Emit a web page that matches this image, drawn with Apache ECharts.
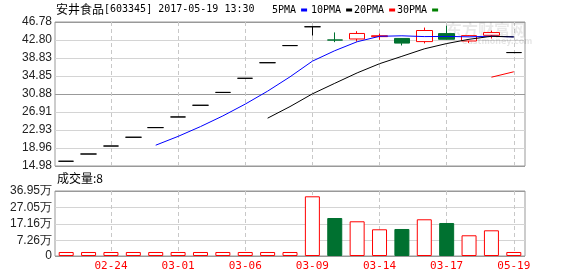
<!DOCTYPE html>
<html><head><meta charset="utf-8">
<script src="https://cdn.jsdelivr.net/npm/echarts@6/dist/echarts.min.js"></script>
<style>html,body{margin:0;padding:0;background:#fff}#c{width:578px;height:276px}</style>
</head><body><div id="c"></div>
<script>
const dates = ['02-22','02-23','02-24','02-27','02-28','03-01','03-02','03-03','03-06','03-07','03-08','03-09','03-10','03-13','03-14','03-15','03-16','03-17','03-20','03-21','05-19'];
const opens  = [16.03,17.63,19.39,21.33,23.46,25.81,28.39,31.23,34.35,37.79,41.57,45.73,42.82,43.03,43.55,43.15,42.45,44.22,42.59,43.85,40.03];
const closes = [16.03,17.63,19.39,21.33,23.46,25.81,28.39,31.23,34.35,37.79,41.57,45.73,42.78,44.25,43.75,42.12,44.90,42.97,43.77,44.45,40.03];
const lows   = [16.03,17.63,19.39,21.33,23.46,25.81,28.39,31.23,34.35,37.79,41.57,43.78,42.33,42.46,42.85,41.60,42.05,42.92,42.15,43.13,40.03];
const highs  = [16.03,17.63,19.39,21.33,23.46,25.81,28.39,31.23,34.35,37.79,41.57,45.73,44.48,44.75,44.25,43.20,45.55,45.95,43.85,44.88,40.03];
const volumes = [0.4,0.4,0.4,0.4,0.4,0.4,0.4,0.4,0.4,0.4,0.4,33.77,20.77,18.80,14.01,14.18,20.00,17.78,10.41,13.40,0.4];
const ma5  = [null,null,null,null,19.57,21.52,23.68,26.04,28.65,31.51,34.67,38.13,40.44,42.42,43.62,43.73,43.56,43.60,43.50,43.64,43.50];
const ma10 = [null,null,null,null,null,null,null,null,null,25.54,28.10,30.91,33.24,35.54,37.57,39.20,40.85,42.02,42.96,43.63,43.48];
const ma20 = [null,null,null,null,null,null,null,null,null,null,null,null,null,null,null,null,null,null,null,34.59,35.79];
const ma30 = [null,null,null,null,null,null,null,null,null,null,null,null,null,null,null,null,null,null,null,null,null];
const priceTickLabels = ['14.98','18.96','22.93','26.91','30.88','34.85','38.83','42.80','46.78'];
const volTickValues = [7.26,17.16,27.05,36.95];
const volTickLabels = ['0','7.26万','17.16万','27.05万','36.95万'];

const PMIN = 14.98, PMAX = 46.78, VMIN = -2.0, VMAX = 36.95;
const RED = '#ff0000', GREEN = '#007130';
const priceTickValues = priceTickLabels.map((s, i) => PMIN + (PMAX - PMIN) * i / 8);
const volAllTicks = [VMIN].concat(volTickValues);

function nearestLabel(values, labels, v) {
  let best = 0;
  for (let i = 1; i < values.length; i++) if (Math.abs(values[i] - v) < Math.abs(values[best] - v)) best = i;
  return labels[best];
}

const candleData = dates.map((d, i) => {
  const item = { value: [opens[i], closes[i], lows[i], highs[i]] };
  if (opens[i] === closes[i]) item.itemStyle = { borderColor: '#000', borderColor0: '#000', color: '#000', color0: '#000' };
  return item;
});
const volData = volumes.map((v, i) => {
  const down = closes[i] < opens[i];
  return { value: v, itemStyle: down ? { color: GREEN, borderColor: GREEN, borderWidth: 1 } : { color: '#fff', borderColor: RED, borderWidth: 1 } };
});

const labelIdx = (i) => i % 3 === 2;
const chart = echarts.init(document.getElementById('c'), null, { renderer: 'canvas' });
const legendCommon = { top: 5, itemWidth: 6, itemHeight: 3, align: 'right', padding: 0, icon: 'rect',
  textStyle: { fontFamily: 'DejaVu Sans Mono', fontSize: 10, color: '#000' } };
chart.setOption({
  animation: false,
  backgroundColor: '#fff',
  title: [
    { left: 56, top: 3, padding: 0, text: '{c|安井食品}{a|[603345] 2017-05-19 13:30}',
      textStyle: { fontWeight: 'normal', rich: { c: { fontFamily: 'Noto Sans CJK SC', fontSize: 12, fontWeight: 'normal', color: '#000' }, a: { fontFamily: 'DejaVu Sans Mono', fontSize: 10, fontWeight: 'normal', color: '#000' } } } },
    { left: 57, top: 172, padding: 0, text: '成交量:8',
      textStyle: { fontFamily: 'Noto Sans CJK SC', fontSize: 12, fontWeight: 'normal', color: '#000' } },
    { left: 446, top: 22, padding: 0, text: '东方财富网', z: 0,
      textStyle: { fontFamily: 'Noto Sans CJK SC', fontSize: 16, fontWeight: 'bold', color: 'rgba(0,0,0,0.09)' } },
    { left: 462, top: 38, padding: 0, text: 'eastmoney.com', z: 0,
      textStyle: { fontFamily: 'DejaVu Sans', fontSize: 8, fontWeight: 'bold', color: 'rgba(0,0,0,0.10)' } }
  ],
  legend: [
    Object.assign({ left: 272, data: ['5PMA'] }, legendCommon),
    Object.assign({ left: 311, data: ['10PMA'] }, legendCommon),
    Object.assign({ left: 354, data: ['20PMA'] }, legendCommon),
    Object.assign({ left: 397, data: ['30PMA'] }, legendCommon)
  ],
  grid: [
    { left: 55, top: 22, width: 470, height: 144, show: true, borderColor: '#999', borderWidth: 1, backgroundColor: 'transparent' },
    { left: 55, top: 191, width: 470, height: 65, show: true, borderColor: '#999', borderWidth: 1, backgroundColor: 'transparent' }
  ],
  xAxis: [
    { type: 'category', gridIndex: 0, data: dates, boundaryGap: true,
      axisLine: { show: false }, axisTick: { show: false, alignWithLabel: true }, axisLabel: { show: false },
      splitLine: { show: true, interval: labelIdx, alignWithLabel: true, lineStyle: { color: '#c8c8c8', type: [4, 3], width: 1 } } },
    { type: 'category', gridIndex: 1, data: dates, boundaryGap: true,
      axisLine: { show: false }, axisTick: { show: false, alignWithLabel: true },
      axisLabel: { show: true, interval: labelIdx, color: RED, fontFamily: 'DejaVu Sans Mono', fontSize: 11, margin: 5 },
      splitLine: { show: true, interval: labelIdx, alignWithLabel: true, lineStyle: { color: '#c8c8c8', type: [4, 3], width: 1 } } }
  ],
  yAxis: [
    { type: 'value', gridIndex: 0, min: PMIN, max: PMAX, scale: true,
      axisLine: { show: false }, axisTick: { show: false, customValues: priceTickValues },
      axisLabel: { customValues: priceTickValues, margin: 3, fontFamily: 'Liberation Sans', fontSize: 12, color: '#222',
        formatter: (v) => nearestLabel(priceTickValues, priceTickLabels, v) },
      splitLine: { show: true, customValues: priceTickValues,
        lineStyle: { width: 1, color: ['#999', '#d4d4d4', '#d4d4d4', '#d4d4d4', '#999', '#d4d4d4', '#d4d4d4', '#d4d4d4', '#999'] } } },
    { type: 'value', gridIndex: 1, min: VMIN, max: VMAX, startValue: VMIN,
      axisLine: { show: false }, axisTick: { show: false, customValues: volAllTicks },
      axisLabel: { customValues: volAllTicks, margin: 3, fontFamily: 'Liberation Sans', fontSize: 12, color: '#222',
        formatter: (v) => nearestLabel(volAllTicks, volTickLabels, v) },
      splitLine: { show: true, customValues: volAllTicks,
        lineStyle: { width: 1, color: ['#999', '#d4d4d4', '#d4d4d4', '#d4d4d4', '#999'] } } }
  ],
  series: [
    { type: 'candlestick', name: 'K', xAxisIndex: 0, yAxisIndex: 0, data: candleData, barWidth: 16,
      itemStyle: { color: '#fff', color0: GREEN, borderColor: RED, borderColor0: GREEN, borderColorDoji: '#000', borderWidth: 1 } },
    { type: 'line', name: '5PMA', xAxisIndex: 0, yAxisIndex: 0, data: ma5, showSymbol: false, symbol: 'none', color: '#0000ff', lineStyle: { width: 1, color: '#0000ff' } },
    { type: 'line', name: '10PMA', xAxisIndex: 0, yAxisIndex: 0, data: ma10, showSymbol: false, symbol: 'none', color: '#000000', lineStyle: { width: 1, color: '#000000' } },
    { type: 'line', name: '20PMA', xAxisIndex: 0, yAxisIndex: 0, data: ma20, showSymbol: false, symbol: 'none', color: '#ff0000', lineStyle: { width: 1, color: '#ff0000' } },
    { type: 'line', name: '30PMA', xAxisIndex: 0, yAxisIndex: 0, data: ma30, showSymbol: false, symbol: 'none', color: '#008000', lineStyle: { width: 1, color: '#008000' } },
    { type: 'bar', name: '成交量', xAxisIndex: 1, yAxisIndex: 1, data: volData, barWidth: 15 }
  ]
});
</script></body></html>
